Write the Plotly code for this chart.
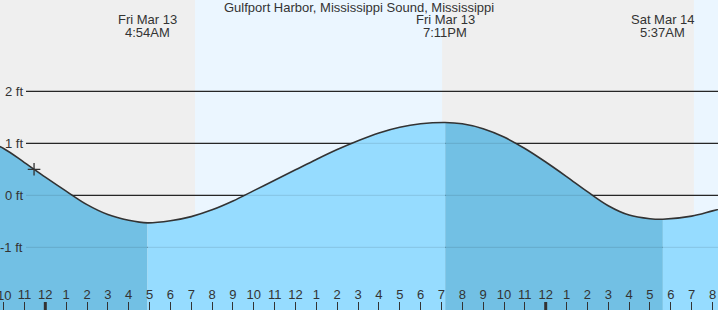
import plotly.graph_objects as go

# ---- data (hours relative to Fri Mar 13 00:00) ----
hours = [-3, -2, -1, 0, 1, 2, 3, 4, 6, 7, 8, 9, 10, 11, 12, 13, 14, 15, 16,
         17, 18, 20, 21, 22, 23, 24, 25, 26, 27, 28, 29, 31, 32, 33]
heights = [1.08, 0.90, 0.63, 0.35, 0.08, -0.18, -0.37, -0.48, -0.49, -0.41,
           -0.28, -0.11, 0.09, 0.29, 0.49, 0.69, 0.88, 1.05, 1.20, 1.31, 1.375,
           1.375, 1.28, 1.12, 0.90, 0.64, 0.36, 0.07, -0.20, -0.38, -0.45,
           -0.40, -0.30, -0.20]

ext_t = [4.9, 19.18, 29.62]
ext_h = [-0.53, 1.40, -0.46]
ext_date = ["Fri Mar 13", "Fri Mar 13", "Sat Mar 14"]
ext_time = ["4:54AM", "7:11PM", "5:37AM"]

sunrise = [7.18, 31.11]
sunset = [19.03, 43.0]

now_t = [-0.54]
now_h = [0.50]

y_ticks = [2, 1, 0, -1]
y_labels = ["2 ft", "1 ft", "0 ft", "-1 ft"]

x_ticks = list(range(-2, 33))
x_labels = ["10", "11", "12", "1", "2", "3", "4", "5", "6", "7", "8", "9", "10", "11",
            "12", "1", "2", "3", "4", "5", "6", "7", "8", "9", "10", "11",
            "12", "1", "2", "3", "4", "5", "6", "7", "8"]
midnights = [0, 24]

title = "Gulfport Harbor, Mississippi Sound, Mississippi"

# ---- styling ----
W, H = 718, 310
XR = [-2.173, 32.264]
YR = [-2.206, 3.756]
BOT = -3.0
TXT = "#333333"
FONT = "Liberation Sans, Arial, sans-serif"
DARK = "rgb(114,192,228)"
LIGHT = "rgb(150,220,255)"

pts = sorted(list(zip(hours, heights)) + list(zip(ext_t, ext_h)))
cx = [p[0] for p in pts]
cy = [p[1] for p in pts]

fig = go.Figure()

bounds = [cx[0]] + ext_t + [cx[-1]]
for i in range(len(bounds) - 1):
    a, b = bounds[i], bounds[i + 1]
    sx = [x for x in cx if a <= x <= b]
    sy = [y for x, y in zip(cx, cy) if a <= x <= b]
    col = DARK if i % 2 == 0 else LIGHT
    fig.add_trace(go.Scatter(x=[a, b], y=[BOT, BOT], mode="lines",
                             line=dict(width=0), hoverinfo="skip", showlegend=False))
    fig.add_trace(go.Scatter(x=sx, y=sy, mode="lines", fill="tonexty", fillcolor=col,
                             line=dict(width=0, shape="spline"), hoverinfo="skip",
                             showlegend=False))

fig.add_trace(go.Scatter(x=cx, y=cy, mode="lines",
                         line=dict(color="#333333", width=1.6, shape="spline"),
                         showlegend=False, hoverinfo="skip"))
fig.add_trace(go.Scatter(x=now_t, y=now_h, mode="markers",
                         marker=dict(symbol="cross-thin", size=9,
                                     line=dict(color="#333333", width=1.3)),
                         showlegend=False, hoverinfo="skip"))

shapes = []
for sr, ss in zip(sunrise, sunset):
    shapes.append(dict(type="rect", xref="x", yref="paper", x0=sr, x1=ss, y0=0, y1=1,
                       fillcolor="rgb(235,246,255)", line=dict(width=0), layer="below"))
for yv in y_ticks:
    shapes.append(dict(type="line", xref="paper", yref="y", x0=26 / W, x1=1, y0=yv, y1=yv,
                       line=dict(color="#2a2a2a", width=1.2), layer="below"))
    shapes.append(dict(type="line", xref="paper", yref="y", x0=26 / W, x1=1, y0=yv, y1=yv,
                       line=dict(color="rgba(0,0,0,0.09)", width=1.2), layer="above"))
for m in midnights:
    shapes.append(dict(type="line", xref="x", yref="paper", x0=m, x1=m, y0=0, y1=8 / H,
                       line=dict(color="#333333", width=3), layer="above"))

ann = [dict(text=title, xref="paper", yref="paper", x=0.5, y=1 - 7.5 / H,
            xanchor="center", yanchor="middle", showarrow=False,
            font=dict(size=13, color=TXT, family=FONT))]
for t, d, tm in zip(ext_t, ext_date, ext_time):
    ann.append(dict(text=d, xref="x", yref="paper", x=t, y=1 - 19.5 / H,
                    xanchor="center", yanchor="middle", showarrow=False,
                    font=dict(size=13, color=TXT, family=FONT)))
    ann.append(dict(text=tm, xref="x", yref="paper", x=t, y=1 - 32 / H,
                    xanchor="center", yanchor="middle", showarrow=False,
                    font=dict(size=13, color=TXT, family=FONT)))
for yv, lab in zip(y_ticks, y_labels):
    ann.append(dict(text=lab, xref="paper", yref="y", x=24.5 / W, y=yv,
                    xanchor="right", yanchor="middle", showarrow=False,
                    font=dict(size=13, color=TXT, family=FONT)))
# first tick label is clipped by the left edge in the reference; plotly hides it, so draw it
ann.append(dict(text=x_labels[0], xref="x", yref="paper", x=x_ticks[0], y=14.5 / H,
                xanchor="center", yanchor="middle", showarrow=False,
                font=dict(size=13, color=TXT, family=FONT)))

fig.update_layout(
    width=W, height=H, autosize=False,
    margin=dict(l=0, r=0, t=0, b=0, pad=0),
    paper_bgcolor="rgb(239,239,239)", plot_bgcolor="rgb(239,239,239)",
    shapes=shapes, annotations=ann, showlegend=False,
    font=dict(family=FONT, size=13, color=TXT),
    xaxis=dict(range=XR, tickmode="array", tickvals=x_ticks, ticktext=x_labels,
               ticks="inside", ticklen=8, tickwidth=1, tickcolor="#333333",
               ticklabelposition="inside", tickfont=dict(size=13, color=TXT, family=FONT),
               showgrid=False, zeroline=False, showline=False, fixedrange=True),
    yaxis=dict(range=YR, showgrid=False, zeroline=False, showline=False,
               showticklabels=False, ticks="", fixedrange=True),
)

fig.write_html("out.html", config={"displayModeBar": False})
